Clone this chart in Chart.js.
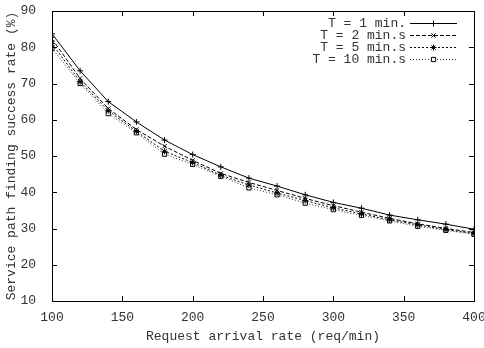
<!DOCTYPE html>
<html>
<head>
<meta charset="utf-8">
<script src="https://cdn.jsdelivr.net/npm/chart.js@4/dist/chart.umd.min.js"></script>
<style>
  html, body { margin: 0; padding: 0; background: #fff; }
  #wrap { width: 484px; height: 348px; }
</style>
</head>
<body>
<div id="wrap"><canvas id="c" width="484" height="348"></canvas></div>
<script>
// request arrival rate (req/min)
const rates = [100, 120, 140, 160, 180, 200, 220, 240, 260, 280, 300, 320, 340, 360, 380, 400];
const seriesNames = ['T = 1 min.', 'T = 2 min.s', 'T = 5 min.s', 'T = 10 min.s'];
const t1 = [83.7, 73.5, 65.0, 59.4, 54.4, 50.4, 47.0, 43.9, 41.7, 39.3, 37.2, 35.6, 33.7, 32.4, 31.2, 29.8];
const t2 = [82.3, 71.4, 63.1, 57.3, 52.7, 48.8, 45.2, 42.7, 40.5, 38.3, 36.3, 34.5, 32.8, 31.3, 30.0, 28.9];
const t5 = [81.0, 70.5, 62.5, 56.8, 51.3, 48.2, 44.7, 42.0, 39.8, 37.7, 35.7, 34.0, 32.4, 31.0, 29.7, 28.6];
const t10 = [79.7, 70.0, 61.7, 56.4, 50.5, 47.7, 44.4, 41.2, 39.3, 37.0, 35.2, 33.6, 32.1, 30.6, 29.5, 28.4];
const xTicks = [100, 150, 200, 250, 300, 350, 400];
const yTicks = [10, 20, 30, 40, 50, 60, 70, 80, 90];

const FONT = '"Liberation Mono", "DejaVu Sans Mono", monospace';
const TEXT = '#333';
const styles = [
  { dash: [], point: 'cross', color: '#000', bg: '#000' },
  { dash: [4, 2], point: 'crossRot', color: '#000', bg: '#000' },
  { dash: [2, 2], point: 'star', color: '#000', bg: '#000' },
  { dash: [1, 2], point: 'rect', color: '#333', bg: '#fff' }
];
const allSeries = [t1, t2, t5, t10];

const datasets = allSeries.map((vals, i) => ({
  label: seriesNames[i],
  data: rates.map((r, j) => ({ x: r, y: vals[j] })),
  borderColor: styles[i].color,
  borderWidth: 1,
  borderDash: styles[i].dash,
  pointStyle: styles[i].point,
  pointRadius: 3,
  pointBorderWidth: 1,
  pointBorderColor: '#000',
  pointBackgroundColor: styles[i].bg,
  tension: 0
}));

// gnuplot style frame with inward ticks on all four sides, plus legend
const framePlugin = {
  id: 'frame',
  afterDraw(chart) {
    const ctx = chart.ctx;
    const a = chart.chartArea;
    const xs = chart.scales.x, ys = chart.scales.y;
    ctx.save();
    ctx.strokeStyle = '#000';
    ctx.lineWidth = 1;
    ctx.setLineDash([]);
    ctx.strokeRect(a.left + 0.5, a.top + 0.5, a.right - a.left, a.bottom - a.top);
    ctx.beginPath();
    xTicks.forEach(v => {
      const px = Math.round(xs.getPixelForValue(v)) + 0.5;
      ctx.moveTo(px, a.bottom); ctx.lineTo(px, a.bottom - 5);
      ctx.moveTo(px, a.top); ctx.lineTo(px, a.top + 5);
    });
    yTicks.forEach(v => {
      const py = Math.round(ys.getPixelForValue(v)) + 0.5;
      ctx.moveTo(a.left, py); ctx.lineTo(a.left + 5, py);
      ctx.moveTo(a.right, py); ctx.lineTo(a.right - 5, py);
    });
    ctx.stroke();

    // legend: text right aligned, sample to the right
    ctx.font = '13px ' + FONT;
    ctx.textAlign = 'right';
    ctx.textBaseline = 'middle';
    chart.data.datasets.forEach((ds, i) => {
      const y = Math.round(23 + i * 12) + 0.5;
      ctx.fillStyle = TEXT;
      ctx.fillText(ds.label, 406, y);
      ctx.strokeStyle = ds.borderColor;
      ctx.setLineDash(ds.borderDash);
      ctx.beginPath();
      ctx.moveTo(410, y);
      ctx.lineTo(457, y);
      ctx.stroke();
      ctx.setLineDash([]);
      ctx.strokeStyle = '#000';
      ctx.fillStyle = ds.pointBackgroundColor;
      Chart.helpers.drawPoint(ctx, {
        pointStyle: ds.pointStyle, radius: 3, rotation: 0, borderWidth: 1
      }, 433.5, y);
    });
    ctx.restore();
  }
};

new Chart(document.getElementById('c'), {
  type: 'line',
  data: { datasets },
  plugins: [framePlugin],
  options: {
    responsive: false,
    animation: false,
    layout: { padding: { top: 11, right: 10, left: 0, bottom: 0 } },
    plugins: {
      legend: { display: false },
      tooltip: { enabled: false }
    },
    scales: {
      x: {
        type: 'linear',
        min: 100, max: 400,
        afterBuildTicks(s) { s.ticks = xTicks.map(v => ({ value: v })); },
        afterFit(s) { s.height = 47; s.paddingLeft = 0; s.paddingRight = 0; },
        grid: { display: false },
        border: { display: false },
        ticks: { font: { family: FONT, size: 13 }, color: TEXT, padding: 1, maxRotation: 0 },
        title: {
          display: true, text: 'Request arrival rate (req/min)',
          font: { family: FONT, size: 13 }, color: TEXT, padding: { top: 10 }
        }
      },
      y: {
        min: 10, max: 90,
        afterBuildTicks(s) { s.ticks = yTicks.map(v => ({ value: v })); },
        afterFit(s) { s.width = 52; s.paddingTop = 0; s.paddingBottom = 0; },
        grid: { display: false },
        border: { display: false },
        ticks: { font: { family: FONT, size: 13 }, color: TEXT, padding: 8 },
        title: {
          display: true, text: 'Service path finding success rate (%)',
          font: { family: FONT, size: 13 }, color: TEXT, padding: { bottom: 0 }
        }
      }
    }
  }
});
</script>
</body>
</html>
